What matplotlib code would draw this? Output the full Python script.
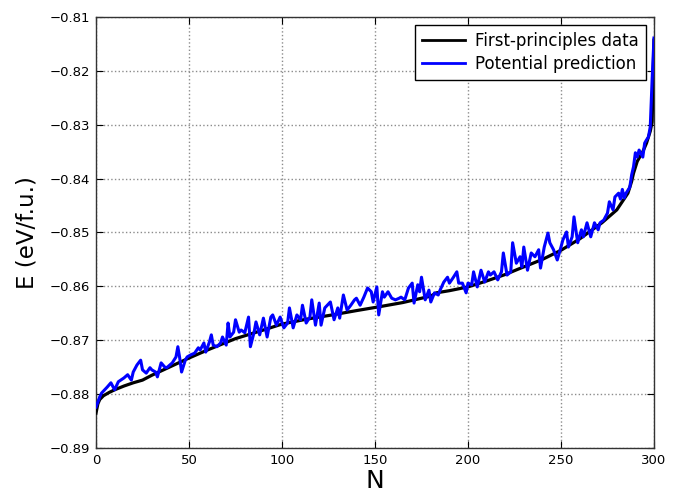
import matplotlib
matplotlib.use("Agg")
import matplotlib.pyplot as plt

# First-principles data (sorted), read at sample positions
dft_n = [0, 1, 2, 4, 7, 10, 15, 20, 25, 30, 40, 50, 60, 75, 90, 100, 113, 127,
         140, 152, 165, 175, 180, 183, 190, 200, 210, 220, 227, 240, 250, 260,
         272, 280, 286, 288, 289, 291, 294, 296, 298, 299, 300]
dft_e = [-0.8835, -0.8818, -0.8810, -0.8803, -0.8797, -0.8792, -0.8785, -0.8779,
         -0.8774, -0.8765, -0.8749, -0.8733, -0.8718, -0.8697, -0.8681, -0.8670,
         -0.8661, -0.8653, -0.8645, -0.8638, -0.8630, -0.8622, -0.8618, -0.8612,
         -0.8608, -0.8601, -0.8590, -0.8578, -0.8568, -0.8550, -0.8533, -0.8512,
         -0.8482, -0.8458, -0.8427, -0.8405, -0.8390, -0.8368, -0.8350, -0.8334,
         -0.8312, -0.8295, -0.8143]

# Potential prediction, read at sample positions
pot_n = [0, 2, 3, 6, 8, 10, 12, 15, 17, 19, 20, 22, 24, 25, 27, 29, 30, 32, 33, 35,
         37, 38, 41, 43, 44, 45, 46, 48, 49, 51, 53, 55, 56, 58, 59, 61, 62, 63, 65, 67,
         68, 70, 71, 72, 74, 75, 77, 78, 80, 82, 83, 85, 86, 88, 90, 92, 94, 95, 97, 99,
         101, 103, 104, 106, 108, 110, 111, 113, 115, 116, 118, 120, 121, 123, 126, 128,
         130, 131, 133, 135, 137, 139, 140, 142, 144, 146, 148, 149, 151, 152, 154, 155,
         157, 159, 161, 163, 164, 166, 168, 170, 171, 173, 174, 175, 177, 179, 180, 182,
         184, 185, 187, 189, 190, 192, 194, 195, 197, 199, 200, 202, 203, 205, 207, 209,
         211, 212, 214, 216, 218, 219, 221, 223, 224, 226, 228, 229, 230, 232, 234, 236,
         238, 239, 241, 243, 244, 246, 248, 250, 251, 253, 254, 256, 257, 259, 261, 262,
         264, 266, 268, 270, 271, 273, 275, 276, 278, 279, 281, 282, 283, 284, 285, 287,
         288, 289, 290, 291, 292, 294, 295, 296, 297, 298, 299, 300]
pot_e = [-0.8824, -0.8805, -0.8798, -0.8787, -0.8779, -0.8792, -0.8777, -0.8770,
         -0.8764, -0.8774, -0.8759, -0.8746, -0.8737, -0.8755, -0.8761, -0.8751,
         -0.8755, -0.8759, -0.8768, -0.8742, -0.8750, -0.8751, -0.8742, -0.8731,
         -0.8712, -0.8733, -0.8759, -0.8737, -0.8731, -0.8727, -0.8724, -0.8714,
         -0.8718, -0.8705, -0.8722, -0.8703, -0.8690, -0.8709, -0.8712, -0.8705,
         -0.8694, -0.8709, -0.8668, -0.8694, -0.8685, -0.8662, -0.8685, -0.8681,
         -0.8686, -0.8657, -0.8712, -0.8685, -0.8666, -0.8690, -0.8659, -0.8694,
         -0.8657, -0.8653, -0.8672, -0.8657, -0.8677, -0.8668, -0.8640, -0.8677,
         -0.8653, -0.8662, -0.8635, -0.8668, -0.8657, -0.8625, -0.8672, -0.8631,
         -0.8672, -0.8640, -0.8629, -0.8662, -0.8640, -0.8659, -0.8616, -0.8644,
         -0.8635, -0.8625, -0.8622, -0.8635, -0.8620, -0.8603, -0.8610, -0.8629,
         -0.8601, -0.8653, -0.8610, -0.8620, -0.8610, -0.8622, -0.8625, -0.8622,
         -0.8620, -0.8625, -0.8603, -0.8594, -0.8631, -0.8597, -0.8610, -0.8583,
         -0.8625, -0.8607, -0.8629, -0.8612, -0.8616, -0.8607, -0.8592, -0.8583,
         -0.8594, -0.8584, -0.8573, -0.8594, -0.8594, -0.8612, -0.8594, -0.8597,
         -0.8573, -0.8601, -0.8570, -0.8592, -0.8573, -0.8579, -0.8573, -0.8588,
         -0.8573, -0.8538, -0.8579, -0.8573, -0.8519, -0.8557, -0.8545, -0.8564,
         -0.8527, -0.8570, -0.8538, -0.8545, -0.8532, -0.8566, -0.8527, -0.8501,
         -0.8519, -0.8532, -0.8551, -0.8527, -0.8514, -0.8499, -0.8527, -0.8508,
         -0.8471, -0.8519, -0.8495, -0.8508, -0.8482, -0.8508, -0.8482, -0.8495,
         -0.8482, -0.8477, -0.8464, -0.8443, -0.8458, -0.8434, -0.8427, -0.8438,
         -0.8420, -0.8436, -0.8427, -0.8416, -0.8393, -0.8378, -0.8352, -0.8360,
         -0.8347, -0.8360, -0.8334, -0.8328, -0.8323, -0.8304, -0.8217, -0.8139]

x_ticks = [0, 50, 100, 150, 200, 250, 300]
y_ticks = [-0.89, -0.88, -0.87, -0.86, -0.85, -0.84, -0.83, -0.82, -0.81]

fig = plt.figure(figsize=(6.82, 4.96), dpi=100)
ax = fig.add_axes([0.1408, 0.0968, 0.9589 - 0.1408, 0.9657 - 0.0968])

ax.plot(dft_n, dft_e, color="black", lw=2.3, label="First-principles data", zorder=3)
ax.plot(pot_n, pot_e, color="blue", lw=2.2, label="Potential prediction", zorder=4)

ax.set_xlim(0, 300)
ax.set_ylim(-0.89, -0.81)
ax.set_xticks(x_ticks)
ax.set_yticks(y_ticks)
ax.set_yticklabels(["\u2212%.2f" % abs(v) for v in y_ticks])
ax.tick_params(direction="in", top=True, right=True, labelsize=9.5, length=5, pad=4)
ax.grid(True, color="0.55", linestyle=":", linewidth=1)
ax.set_axisbelow(True)
for s in ax.spines.values():
    s.set_linewidth(1.0)
    s.set_color("0.2")

ax.set_xlabel("N", fontsize=18, labelpad=2)
ax.set_ylabel("E (eV/f.u.)", fontsize=16.5, labelpad=8)

leg = ax.legend(loc="upper right", fontsize=12, fancybox=False, framealpha=1,
                edgecolor="black", handlelength=2.6, borderpad=0.4,
                labelspacing=0.3, handletextpad=0.6, borderaxespad=0.5)
leg.get_frame().set_linewidth(1.0)
for line in leg.get_lines():
    line.set_linewidth(2)

fig.savefig("out.png", dpi=100)
